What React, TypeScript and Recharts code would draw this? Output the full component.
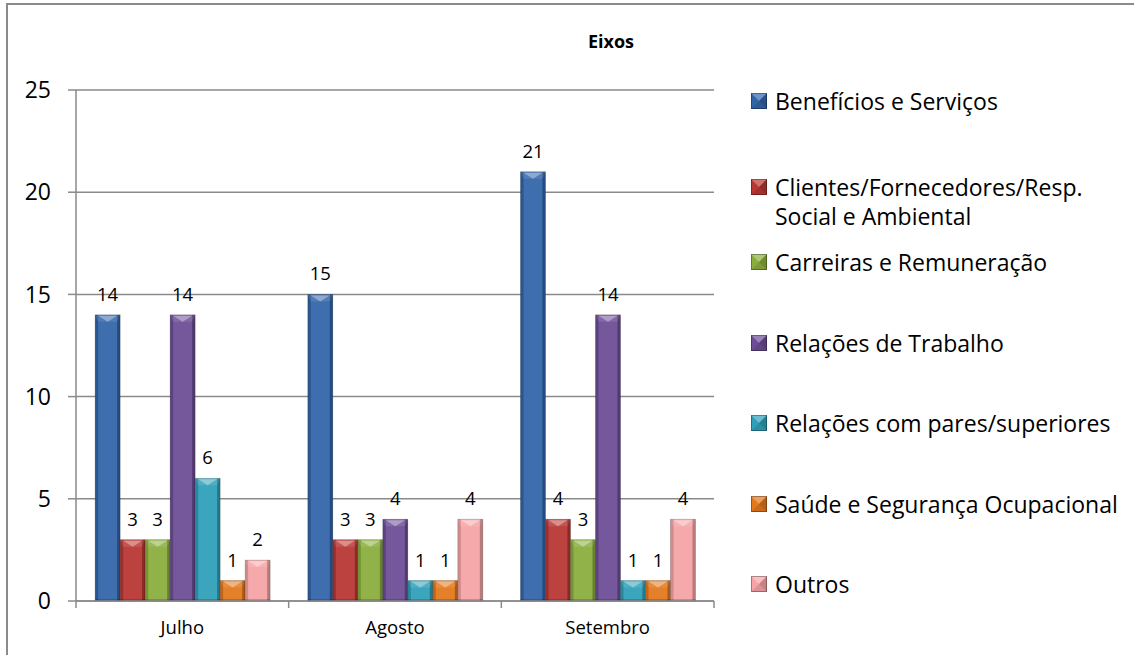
import React from "react";
import { BarChart, Bar, XAxis, YAxis, CartesianGrid, LabelList } from "recharts";

const months = ["Julho", "Agosto", "Setembro"];

const beneficios = [14, 15, 21];
const clientes = [3, 3, 4];
const carreiras = [3, 3, 3];
const relTrabalho = [14, 4, 14];
const relPares = [6, 1, 1];
const saude = [1, 1, 1];
const outros = [2, 4, 4];

const yTicks = [0, 5, 10, 15, 20, 25];

const series = [
  { key: "beneficios", name: "Benefícios e Serviços", values: beneficios, color: "#3265a8" },
  { key: "clientes", name: "Clientes/Fornecedores/Resp. Social e Ambiental", values: clientes, color: "#b83733" },
  { key: "carreiras", name: "Carreiras e Remuneração", values: carreiras, color: "#8aae3d" },
  { key: "relTrabalho", name: "Relações de Trabalho", values: relTrabalho, color: "#6d4e96" },
  { key: "relPares", name: "Relações com pares/superiores", values: relPares, color: "#30a0ba" },
  { key: "saude", name: "Saúde e Segurança Ocupacional", values: saude, color: "#e3781d" },
  { key: "outros", name: "Outros", values: outros, color: "#f6a4a6" },
];

const data = months.map((m, i) => {
  const row: Record<string, string | number> = { month: m };
  series.forEach((s) => {
    row[s.key] = s.values[i];
  });
  return row;
});

const FONT = "'Open Sans', Lato, sans-serif";
const GRID = "#8a8a8a";

// beveled bar, like the office "bevel" preset
function BevelBar(props: any) {
  const { x, y, width, height, fill } = props;
  if (!height || height <= 0) return null;
  const bev = Math.min(7, height / 2);
  const side = Math.min(3, width / 6);
  return (
    <g>
      <rect x={x} y={y} width={width} height={height} fill={fill} />
      <rect x={x + side} y={y} width={width - side * 2} height={height} fill="#fff" opacity={0.06} />
      <rect x={x} y={y} width={side} height={height} fill="#000" opacity={0.15} />
      <rect x={x + width - side} y={y} width={side} height={height} fill="#000" opacity={0.25} />
      <rect x={x} y={y + height - 2} width={width} height={2} fill="#000" opacity={0.18} />
      <polygon
        points={`${x},${y} ${x + width},${y} ${x + width - side},${y + bev} ${x + side},${y + bev}`}
        fill="#fff"
        opacity={0.1}
      />
      <polygon
        points={`${x + side},${y + 1} ${x + width - side},${y + 1} ${x + width / 2},${y + bev}`}
        fill="#fff"
        opacity={0.35}
      />
      <rect x={x} y={y} width={width} height={height} fill="none" stroke="#000" strokeOpacity={0.22} strokeWidth={0.8} />
    </g>
  );
}

function MonthTick(props: any) {
  const { x, y, payload, index, visibleTicksCount } = props;
  const half = payload.offset ?? 106;
  const last = index === (visibleTicksCount ?? 3) - 1;
  return (
    <g>
      <line x1={x - half} y1={y} x2={x - half} y2={y + 7} stroke={GRID} strokeWidth={1.5} />
      {last && <line x1={x + half} y1={y} x2={x + half} y2={y + 7} stroke={GRID} strokeWidth={1.5} />}
      <text x={x} y={y + 27} textAnchor="middle" dy="0.35em" fontSize={18.5} fontFamily={FONT} fill="#000">
        {payload.value}
      </text>
    </g>
  );
}

function LegendIcon({ color }: { color: string }) {
  return (
    <svg width={16} height={16} style={{ display: "block" }}>
      <rect x={0} y={0} width={16} height={16} fill={color} />
      <polygon points="0,0 16,0 8,8" fill="#fff" opacity={0.3} />
      <polygon points="16,0 16,16 8,8" fill="#000" opacity={0.2} />
      <polygon points="0,16 16,16 8,8" fill="#000" opacity={0.1} />
      <rect x={0.5} y={0.5} width={15} height={15} fill="none" stroke="#000" strokeOpacity={0.3} />
    </svg>
  );
}

export default function App() {
  return (
    <div style={{ position: "absolute", left: 0, top: 0, width: 1134, height: 655, background: "#fff", fontFamily: FONT }}>
      <div
        style={{
          position: "absolute",
          left: 6,
          top: 3,
          width: 1128,
          height: 652,
          borderTop: `2px solid ${GRID}`,
          borderLeft: `2px solid ${GRID}`,
          boxSizing: "border-box",
        }}
      />
      <div
        style={{
          position: "absolute",
          left: 511,
          width: 200,
          top: 29,
          textAlign: "center",
          fontWeight: 700,
          fontSize: 18,
          color: "#000",
        }}
      >
        Eixos
      </div>
      <div style={{ position: "absolute", left: 0, top: 0 }}>
        <BarChart
          width={1134}
          height={655}
          data={data}
          margin={{ top: 90, right: 420, bottom: 0, left: 0 }}
          barCategoryGap="9%"
          barGap={0}
        >
          <CartesianGrid vertical={false} stroke={GRID} strokeWidth={1.5} />
          <YAxis
            width={76}
            domain={[0, 25]}
            ticks={yTicks}
            interval={0}
            axisLine={{ stroke: GRID, strokeWidth: 1.5 }}
            tickLine={{ stroke: GRID, strokeWidth: 1.5 }}
            tickSize={8}
            tickMargin={17}
            tick={{ fontSize: 23, fontFamily: FONT, fill: "#000" }}
          />
          <XAxis
            dataKey="month"
            height={54}
            axisLine={{ stroke: GRID, strokeWidth: 1.5 }}
            tickLine={false}
            tickSize={0}
            tickMargin={0}
            interval={0}
            tick={<MonthTick />}
          />
          {series.map((s) => (
            <Bar key={s.key} dataKey={s.key} name={s.name} fill={s.color} shape={<BevelBar />} isAnimationActive={false}>
              <LabelList dataKey={s.key} position="top" offset={14} fontSize={18.5} fontFamily={FONT} fill="#000" />
            </Bar>
          ))}
        </BarChart>
      </div>
      <div style={{ position: "absolute", left: 751, top: 87 }}>
        {series.map((s, i) => (
          <div
            key={s.key}
            style={{
              display: "flex",
              alignItems: "flex-start",
              height: 80.5,
              paddingTop: i === 1 ? 5.5 : 0,
              boxSizing: "border-box",
            }}
          >
            <div style={{ marginTop: 6, marginRight: 8 }}>
              <LegendIcon color={s.color} />
            </div>
            <div style={{ fontSize: 23, lineHeight: "29px", color: "#000", width: 360, whiteSpace: "nowrap" }}>
              {s.key === "clientes" ? (
                <>
                  Clientes/Fornecedores/Resp.
                  <br />
                  Social e Ambiental
                </>
              ) : (
                s.name
              )}
            </div>
          </div>
        ))}
      </div>
    </div>
  );
}
